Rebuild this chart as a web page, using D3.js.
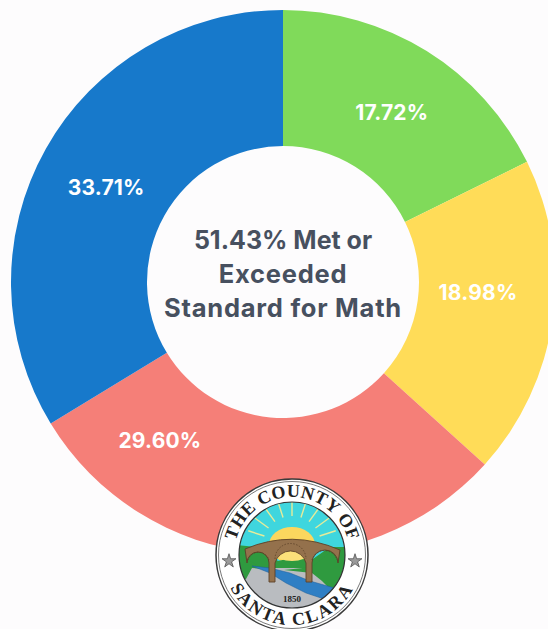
<!DOCTYPE html>
<html>
<head>
<meta charset="utf-8">
<script src="https://cdn.jsdelivr.net/npm/d3@7"></script>
<style>
    html, body { margin: 0; padding: 0; background: #fdfcfd; overflow: hidden; }
    svg { display: block; }
</style>
</head>
<body>
<div id="chart"></div>
<script>
// values in clockwise order from 12 o'clock
const categories = ["Standard Met", "Standard Exceeded", "Standard Not Met", "Standard Nearly Met"];
const percents = [17.72, 18.98, 29.60, 33.71];
const sliceColors = ["#80da5a", "#ffdc58", "#f57f78", "#1779cb"];
const centerLines = ["51.43% Met or", "Exceeded", "Standard for Math"];

const width = 548, height = 629;
const cx = 283, cy = 282, outer = 272, inner = 136;
// labels were placed by hand in the original, not on the centroids
const labelNudge = [[1, 4], [-7, -18], [-104, -44], [1, 6]];

const svg = d3.select("#chart").append("svg")
    .attr("width", width)
    .attr("height", height);

svg.append("rect")
    .attr("width", width)
    .attr("height", height)
    .attr("fill", "#fdfcfd");

const pie = d3.pie().sort(null).value(d => d);
const arc = d3.arc().innerRadius(inner).outerRadius(outer);
const arcs = pie(percents);

const donut = svg.append("g").attr("transform", `translate(${cx},${cy})`);

donut.selectAll("path")
    .data(arcs)
    .enter()
    .append("path")
    .attr("d", arc)
    .attr("fill", (d, i) => sliceColors[i])
    .append("title")
    .text((d, i) => categories[i]);

donut.selectAll("text")
    .data(arcs)
    .enter()
    .append("text")
    .attr("x", (d, i) => arc.centroid(d)[0] + labelNudge[i][0])
    .attr("y", (d, i) => arc.centroid(d)[1] + labelNudge[i][1])
    .attr("dy", "0.35em")
    .attr("text-anchor", "middle")
    .attr("font-family", "Inter, sans-serif")
    .attr("font-weight", 700)
    .attr("font-size", 21)
    .attr("letter-spacing", 0.2)
    .attr("fill", "#ffffff")
    .text(d => d.value.toFixed(2) + "%");

donut.selectAll("text.center")
    .data(centerLines)
    .enter()
    .append("text")
    .attr("class", "center")
    .attr("x", 0)
    .attr("y", (d, i) => -42 + i * 34)
    .attr("dy", "0.35em")
    .attr("text-anchor", "middle")
    .attr("font-family", "Inter, sans-serif")
    .attr("font-weight", 700)
    .attr("font-size", (d, i) => i === 0 ? 25 : 25.5)
    .attr("letter-spacing", (d, i) => i === 0 ? 0 : 0.75)
    .attr("fill", "#47505f")
    .text(d => d);

// county seal, drawn around its own centre
const seal = svg.append("g").attr("transform", "translate(292,555)");
const defs = svg.append("defs");

defs.append("clipPath").attr("id", "sealClip")
    .append("circle").attr("r", 53);
defs.append("path").attr("id", "sealTop")
    .attr("d", "M-58,0 A58,58 0 0 1 58,0");
defs.append("path").attr("id", "sealBottom")
    .attr("d", "M-70,0 A70,70 0 0 0 70,0");

seal.append("circle").attr("r", 76).attr("fill", "#ffffff").attr("stroke", "#3a3a3a").attr("stroke-width", 1.5);
seal.append("circle").attr("r", 73.5).attr("fill", "none").attr("stroke", "#555555").attr("stroke-width", 0.8);

const scene = seal.append("g").attr("clip-path", "url(#sealClip)");
scene.append("rect").attr("x", -56).attr("y", -56).attr("width", 112).attr("height", 112).attr("fill", "#3fd6de");

// rays
d3.range(-72, 73, 18).forEach(a => {
    const r = a * Math.PI / 180;
    scene.append("line")
        .attr("x1", 29 * Math.sin(r)).attr("y1", -10 - 29 * Math.cos(r))
        .attr("x2", 46 * Math.sin(r)).attr("y2", -10 - 46 * Math.cos(r))
        .attr("stroke", "#e6eb9a").attr("stroke-width", 1.4);
});

scene.append("ellipse").attr("cx", 0).attr("cy", -10).attr("rx", 23).attr("ry", 18).attr("fill", "#fbd75e");

// back hills then ground
scene.append("path").attr("fill", "#2f9a3f").attr("d", "M-56,-10 L-36,-8 L-14,6 L4,2 L18,6 L38,-8 L56,-8 L56,16 L-56,16 Z");
scene.append("ellipse").attr("cx", 0).attr("cy", -1).attr("rx", 16).attr("ry", 7).attr("fill", "#fbe07a");
scene.append("rect").attr("x", -56).attr("y", 13).attr("width", 112).attr("height", 44).attr("fill", "#b9bcc0");

// front hills
scene.append("path").attr("fill", "#2f9a3f").attr("d", "M-56,4 L-42,6 L-28,14 L-40,13 L-46,24 L-56,26 Z");
scene.append("path").attr("fill", "#2f9a3f").attr("d", "M56,-6 L40,-4 L20,12 L-8,15 L20,18 L30,26 L40,36 L56,30 Z");

// river
scene.append("path").attr("fill", "#2f7fc4").attr("stroke", "#1d5f9a").attr("stroke-width", 0.5)
    .attr("d", "M-40,11 L-22,13 L-2,18 L18,26 L46,34 L38,46 L14,38 L-6,28 L-22,18 Z");

// bridge
const bridge = seal.append("g").attr("clip-path", "url(#sealClip)");
bridge.append("path").attr("fill", "#94714c").attr("stroke", "#5c4128").attr("stroke-width", 0.9)
    .attr("d", "M-47,-6 Q0,-26 48,-5 L46,8 A13,13 0 0 0 20,8 L20,27 L14,27 L14,8 A16,16 0 0 0 -17,8 L-17,27 L-23,27 L-23,8 A11,11 0 0 0 -45,8 Z");
bridge.append("path").attr("fill", "none").attr("stroke", "#5c4128").attr("stroke-width", 0.8)
    .attr("stroke-dasharray", "1.5,1.5")
    .attr("d", "M-44,5 A11,11 0 0 1 -23,5 M-17,4 A15.5,15.5 0 0 1 14,4 M20,5 A13,13 0 0 1 45,5");

seal.append("circle").attr("r", 53).attr("fill", "none").attr("stroke", "#333333").attr("stroke-width", 1.2);

seal.append("text")
    .attr("text-anchor", "middle").attr("y", 47)
    .attr("font-family", "'Liberation Serif', serif").attr("font-weight", 700)
    .attr("font-size", 9).attr("fill", "#222222").text("1850");

const ringText = (id, str, size, spacing) => seal.append("text")
    .attr("font-family", "'Liberation Serif', serif")
    .attr("font-weight", 700)
    .attr("font-size", size)
    .attr("letter-spacing", spacing)
    .attr("fill", "#222222")
    .attr("text-anchor", "middle")
    .append("textPath")
    .attr("href", "#" + id)
    .attr("startOffset", "50%")
    .text(str);

ringText("sealTop", "THE COUNTY OF", 18, 0.3);
ringText("sealBottom", "SANTA CLARA", 18, 2.2);

// side stars
[-63, 63].forEach(x => {
    seal.append("path")
        .attr("transform", `translate(${x},6)`)
        .attr("d", d3.symbol().type(d3.symbolStar).size(60))
        .attr("fill", "#9a9a9a")
        .attr("stroke", "#444444")
        .attr("stroke-width", 0.7);
});
</script>
</body>
</html>
